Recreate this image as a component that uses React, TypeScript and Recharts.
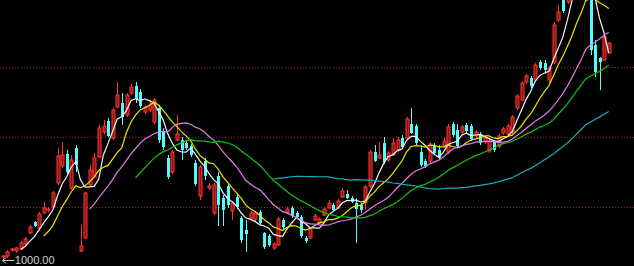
import React from "react";
import {
  ComposedChart,
  Bar,
  Line,
  XAxis,
  YAxis,
  CartesianGrid,
  ReferenceDot,
} from "recharts";

// daily prices, oldest first (first bar is the low of the range)
const opens = [
  1004,
  1006, 1018, 1016, 1020, 1030, 1052, 1074, 1062, 1092, 1098,
  1104, 1152, 1186, 1210, 1142, 1222, 1016, 1042, 1148, 1164,
  1204, 1254, 1276, 1242, 1304, 1312, 1288, 1332, 1346, 1334,
  1294, 1298, 1274, 1302, 1256, 1202, 1174, 1238, 1238, 1232,
  1226, 1192, 1126, 1196, 1142, 1092, 1166, 1122, 1146, 1096,
  1124, 1082, 1058, 1082, 1080, 1094, 1052, 1046, 1022, 1028,
  1078, 1092, 1102, 1092, 1084, 1042, 1042, 1078, 1072, 1088,
  1102, 1108, 1102, 1124, 1130, 1122, 1112, 1108, 1112, 1146,
  1214, 1202, 1232, 1198, 1208, 1218, 1242, 1242, 1270, 1266,
  1214, 1196, 1196, 1226, 1218, 1226, 1214, 1270, 1258, 1254,
  1268, 1266, 1246, 1250, 1234, 1216, 1234, 1226, 1252, 1250,
  1254, 1302, 1318, 1354, 1362, 1358, 1394, 1392, 1358, 1394,
  1478, 1518, 1514, 1550, 1578, 1606, 1598, 1618, 1428, 1402, 1398, 1412,
];

const closes = [
  1006,
  1014, 1020, 1022, 1032, 1040, 1064, 1066, 1090, 1102, 1100,
  1132, 1206, 1208, 1174, 1198, 1188, 1026, 1132, 1178, 1202,
  1262, 1266, 1246, 1298, 1328, 1284, 1328, 1344, 1320, 1306,
  1304, 1310, 1318, 1238, 1224, 1164, 1214, 1250, 1218, 1222,
  1208, 1150, 1184, 1166, 1146, 1148, 1108, 1098, 1108, 1112,
  1104, 1038, 1050, 1092, 1092, 1072, 1024, 1028, 1030, 1080,
  1064, 1100, 1086, 1084, 1046, 1036, 1060, 1086, 1080, 1100,
  1112, 1098, 1116, 1136, 1122, 1114, 1100, 1098, 1144, 1214,
  1196, 1208, 1194, 1212, 1232, 1238, 1224, 1280, 1252, 1232,
  1188, 1186, 1230, 1212, 1202, 1236, 1264, 1248, 1226, 1264,
  1256, 1240, 1254, 1232, 1242, 1236, 1218, 1246, 1260, 1266,
  1284, 1326, 1352, 1366, 1346, 1388, 1382, 1378, 1382, 1468,
  1494, 1496, 1548, 1578, 1602, 1594, 1628, 1418, 1374, 1394, 1444, 1432,
];

const highs = [
  1008,
  1018, 1022, 1024, 1036, 1044, 1068, 1076, 1094, 1114, 1104,
  1136, 1222, 1234, 1218, 1208, 1228, 1068, 1134, 1188, 1212,
  1268, 1278, 1282, 1302, 1354, 1332, 1332, 1350, 1354, 1340,
  1308, 1318, 1322, 1308, 1262, 1208, 1218, 1288, 1244, 1238,
  1230, 1198, 1188, 1202, 1152, 1152, 1174, 1128, 1152, 1116,
  1132, 1086, 1078, 1096, 1096, 1098, 1054, 1050, 1034, 1084,
  1082, 1104, 1106, 1096, 1088, 1046, 1064, 1090, 1084, 1104,
  1118, 1112, 1120, 1142, 1138, 1126, 1122, 1112, 1148, 1218,
  1228, 1234, 1244, 1216, 1242, 1244, 1248, 1284, 1302, 1270,
  1228, 1200, 1234, 1232, 1228, 1242, 1270, 1274, 1270, 1268,
  1272, 1270, 1258, 1254, 1246, 1240, 1238, 1250, 1264, 1270,
  1288, 1330, 1356, 1370, 1366, 1392, 1398, 1398, 1386, 1474,
  1508, 1528, 1562, 1590, 1618, 1622, 1642, 1628, 1438, 1404, 1446, 1434,
];

const lows = [
  1000,
  1002, 1014, 1012, 1018, 1026, 1050, 1064, 1060, 1090, 1094,
  1102, 1148, 1182, 1170, 1138, 1174, 1014, 1040, 1144, 1162,
  1202, 1250, 1244, 1238, 1302, 1268, 1284, 1328, 1312, 1302,
  1290, 1294, 1270, 1232, 1218, 1160, 1170, 1236, 1198, 1218,
  1204, 1146, 1118, 1158, 1138, 1088, 1066, 1066, 1102, 1078,
  1100, 1032, 1014, 1078, 1074, 1070, 1020, 1024, 1018, 1026,
  1060, 1090, 1082, 1082, 1042, 1032, 1040, 1076, 1070, 1086,
  1100, 1096, 1100, 1122, 1120, 1112, 1032, 1092, 1098, 1142,
  1194, 1200, 1190, 1194, 1206, 1214, 1220, 1238, 1250, 1228,
  1184, 1182, 1192, 1208, 1198, 1222, 1210, 1244, 1222, 1248,
  1252, 1236, 1242, 1228, 1230, 1212, 1214, 1222, 1248, 1246,
  1250, 1298, 1316, 1350, 1342, 1354, 1378, 1370, 1352, 1390,
  1474, 1492, 1510, 1538, 1570, 1578, 1588, 1408, 1364, 1338, 1396, 1410,
];

// dotted price grid
const gridLevels = [1383, 1243, 1103];

// moving average periods and their colours
const maPeriods = [5, 10, 20, 30, 60];
const maColors = ["#f4f4f4", "#e6e600", "#e27ee2", "#12c412", "#1aabbc"];

const movingAverage = (src: number[], n: number) =>
  src.map((_, i) =>
    i < n - 1
      ? null
      : src.slice(i - n + 1, i + 1).reduce((a, b) => a + b, 0) / n
  );

const maSeries = maPeriods.map((n) => movingAverage(closes, n));

const chartData = closes.map((close, i) => {
  const row: Record<string, number | null> = {
    idx: i,
    open: opens[i],
    high: highs[i],
    low: lows[i],
    close,
  };
  maPeriods.forEach((n, k) => {
    row["ma" + n] = maSeries[k][i];
  });
  return row;
});

const lowest = Math.min(...lows);
const lowestIdx = lows.indexOf(lowest);

const Candle = (props: any) => {
  const { x, y, width, height, payload } = props;
  if (x == null || y == null) return null;
  const { open, close, high, low } = payload;
  const up = close >= open;
  const top = Math.min(y, y + height);
  const bottom = Math.max(y, y + height);
  const span = high - low || 1;
  const toY = (v: number) => top + ((high - v) / span) * (bottom - top);
  const bodyTop = toY(Math.max(open, close));
  const bodyBottom = toY(Math.min(open, close));
  const cx = Math.round(x + width / 2) + 0.5;
  const color = up ? "#ff3535" : "#55fafa";
  return (
    <g>
      <line x1={cx} x2={cx} y1={top} y2={bottom} stroke={color} strokeWidth={1} />
      <rect
        x={cx - 1.5}
        y={bodyTop}
        width={3}
        height={Math.max(bodyBottom - bodyTop, 1)}
        fill={up ? "#8e1414" : color}
        stroke={up ? color : "none"}
        strokeWidth={up ? 1 : 0}
      />
    </g>
  );
};

const LowLabel = (props: any) => {
  const vb = props.viewBox || {};
  const x = (vb.x ?? 0) + (vb.width ?? 0) / 2;
  const y = (vb.y ?? 0) + (vb.height ?? 0) / 2;
  return (
    <g>
      <line x1={x} y1={y + 1.5} x2={x + 12} y2={y + 1.5} stroke="#c8c8c8" />
      <path
        d={`M${x} ${y + 1.5} l4 -3 M${x} ${y + 1.5} l4 3`}
        stroke="#c8c8c8"
        fill="none"
      />
      <text
        x={x + 12.5}
        y={y + 4.5}
        fill="#d2d2d2"
        fontSize={11}
        fontFamily="Arial, 'Liberation Sans', sans-serif"
      >
        {lowest.toFixed(2)}
      </text>
    </g>
  );
};

const App: React.FC = () => {
  return (
    <div style={{ width: 634, height: 266, background: "#000" }}>
      <style>{"body{margin:0;background:#000}"}</style>
      <ComposedChart
        width={634}
        height={266}
        data={chartData}
        margin={{ top: 0, right: 23, bottom: 0, left: 0 }}
        style={{ background: "#000" }}
      >
        <XAxis dataKey="idx" type="category" hide />
        <YAxis domain={[986, 1518]} allowDataOverflow hide />
        {/* dotted dark-red price levels, drawn across the whole width */}
        <CartesianGrid
          vertical={false}
          horizontalValues={gridLevels}
          stroke="#b01818"
          strokeDasharray="1 2"
          width={634}
          x={0}
        />
        <Bar
          dataKey={(d: any) => [d.low, d.high]}
          shape={<Candle />}
          barSize={3}
          isAnimationActive={false}
        />
        {maPeriods.map((n, k) => (
          <Line
            key={n}
            dataKey={"ma" + n}
            type="linear"
            stroke={maColors[k]}
            strokeWidth={1.2}
            dot={false}
            activeDot={false}
            isAnimationActive={false}
          />
        ))}
        <ReferenceDot
          x={lowestIdx}
          y={lowest}
          r={0}
          fill="none"
          stroke="none"
          label={(p: any) => <LowLabel {...p} />}
        />
      </ComposedChart>
    </div>
  );
};

export default App;
